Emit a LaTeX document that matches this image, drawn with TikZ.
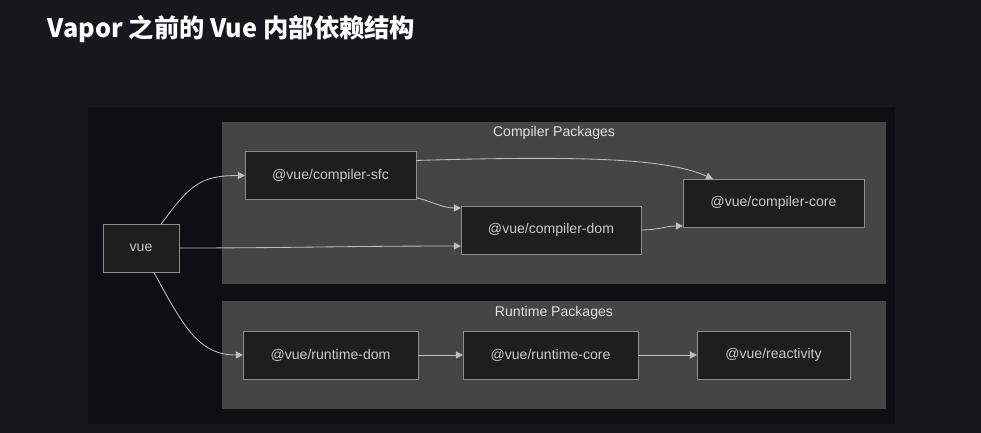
\documentclass[tikz,border=0pt]{standalone}
\usepackage{fontspec}
\setmainfont{Liberation Sans}
\newfontfamily\cjk{Noto Sans CJK SC}
\usetikzlibrary{arrows.meta,positioning,calc}

\definecolor{pagebg}{RGB}{22,24,29}
\definecolor{panelbg}{RGB}{13,15,18}
\definecolor{groupfill}{RGB}{69,69,69}
\definecolor{pkgfill}{RGB}{30,30,30}
\definecolor{pkgline}{RGB}{140,140,140}
\definecolor{pkgtext}{RGB}{200,200,200}
\definecolor{edgecol}{RGB}{190,190,190}

\begin{document}
\begin{tikzpicture}[
  x=0.025cm, y=-0.025cm,
  every node/.style={font=\fontsize{10}{12}\selectfont},
  pkg/.style={
    draw=pkgline,
    line width=0.6pt,
    fill=pkgfill,
    text=pkgtext,
    minimum height=1.2cm,
    inner sep=0pt,
    outer sep=0pt
  },
  group/.style={
    fill=groupfill,
    inner sep=0pt,
    outer sep=0pt
  },
  groupTitle/.style={text=white!88!black},
  % arrows end on the box border
  dep/.style={
    -{Triangle[length=5pt,width=5pt]},
    draw=edgecol,
    line width=0.6pt
  },
  pageTitle/.style={font=\cjk\bfseries\fontsize{18}{22}\selectfont, text=white, anchor=west}
]

% ------------------------------------------------
% Frame
% ------------------------------------------------
\useasboundingbox (0,0) rectangle (981,433);
\fill[pagebg] (0,0) rectangle (981,433);
\fill[panelbg] (88,107) rectangle (895,424);

\node[pageTitle] (title) at (43,29) {Vapor 之前的 Vue 内部依赖结构};

% ------------------------------------------------
% Groups
% ------------------------------------------------
\node[group, minimum width=16.6cm, minimum height=4.05cm] (compilerGrp) at (554,203) {};
\node[groupTitle] (compilerTitle) at (554,133) {Compiler Packages};

\node[group, minimum width=16.6cm, minimum height=2.7cm] (runtimeGrp) at (554,355) {};
\node[groupTitle] (runtimeTitle) at (554,313) {Runtime Packages};

% ------------------------------------------------
% Packages
% ------------------------------------------------
\node[pkg, minimum width=1.9cm] (vue) at (141,248) {vue};

\node[pkg, minimum width=4.275cm] (sfc)  at (330.5,175.5) {@vue/compiler-sfc};
\node[pkg, minimum width=4.5cm]   (cdom) at (551,230)   {@vue/compiler-dom};
\node[pkg, minimum width=4.525cm] (core) at (773.5,203) {@vue/compiler-core};

\node[pkg, minimum width=4.375cm] (rdom)  at (330.5,355) {@vue/runtime-dom};
\node[pkg, minimum width=4.375cm] (rcore) at (550.5,355) {@vue/runtime-core};
\node[pkg, minimum width=3.825cm] (react) at (773.5,355) {@vue/reactivity};

% ------------------------------------------------
% Dependencies
% ------------------------------------------------
\draw[dep] (vue.50) .. controls (190,185) and (200,175.5) .. (sfc.west);
\draw[dep] (vue.east) to[out=0,in=180] ($(cdom.south west)+(0,-8)$);
\draw[dep] (vue.-62) .. controls (185,330) and (200,355) .. (rdom.west);

\draw[dep] ($(sfc.north east)+(0,9)$) .. controls (600,155) and (670,160) .. ($(core.north west)+(30,0)$);
\draw[dep] ($(sfc.south east)+(0,-2)$) to[out=-15,in=180] ($(cdom.north west)+(0,2)$);
\draw[dep] (cdom.east) to[out=0,in=180] ($(core.south west)+(0,-1)$);

\draw[dep] (rdom.east) -- (rcore.west);
\draw[dep] (rcore.east) -- (react.west);

\end{tikzpicture}
\end{document}
